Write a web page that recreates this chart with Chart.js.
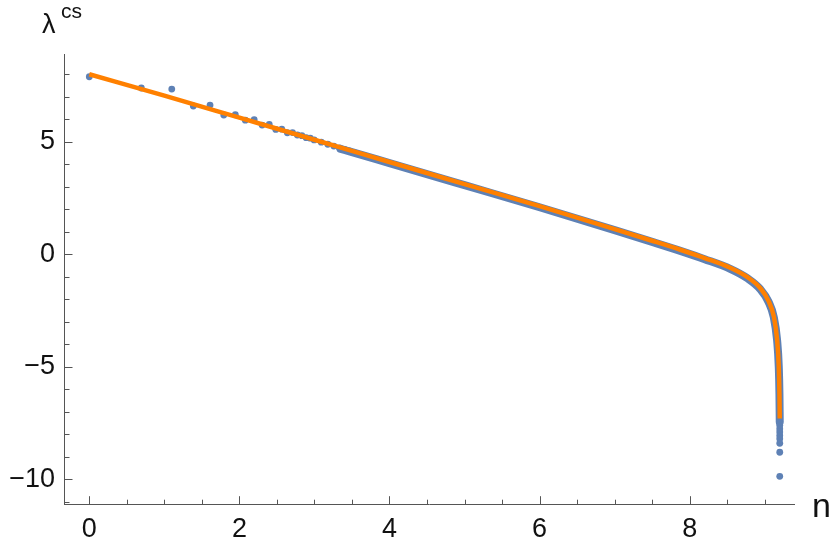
<!DOCTYPE html>
<html>
<head>
<meta charset="utf-8">
<script src="https://cdn.jsdelivr.net/npm/chart.js@4.4.1/dist/chart.umd.min.js"></script>
<style>
  html, body { margin: 0; padding: 0; background: #fff; }
  #wrap { width: 830px; height: 554px; position: relative; }
</style>
</head>
<body>
<div id="wrap"><canvas id="myChart"></canvas></div>
<script>
//! Les donnees.

// points separes (debut de la serie)
const pointsX = [0, 0.693, 1.099, 1.386, 1.609, 1.792, 1.946, 2.079, 2.197, 2.303,
  2.398, 2.485, 2.565, 2.639, 2.708, 2.773, 2.833, 2.890, 2.944, 2.996,
  3.091, 3.178, 3.258, 3.332, 3.401, 3.466, 3.526];
const pointsY = [7.89, 7.39, 7.34, 6.59, 6.63, 6.19, 6.20, 5.96, 5.98, 5.74,
  5.77, 5.55, 5.56, 5.40, 5.41, 5.30, 5.27, 5.18, 5.16, 5.08,
  4.98, 4.89, 4.81, 4.73, 4.66, 4.59, 4.53];

// points separes (queue en bas a droite)
const queueX = [9.2, 9.2, 9.2, 9.2, 9.2, 9.2, 9.2, 9.2, 9.2];
const queueY = [-7.45, -7.6, -7.75, -7.9, -8.05, -8.2, -8.4, -8.8, -9.87];

// bande bleue (points tres serres)
const bandeX = [3.35, 3.5, 4, 5, 6, 7, 7.5, 7.875, 8.2, 8.54, 8.77, 8.94, 9.05, 9.12, 9.165, 9.187, 9.196, 9.2];
const bandeY = [4.68, 4.54, 4.05, 3.07, 2.09, 1.07, 0.55, 0.15, -0.22, -0.65, -1.07, -1.55, -2.11, -2.79, -3.83, -5.0, -6.2, -7.45];

// courbe orange (ajustement)
const courbeX = [0, 1, 2, 3, 4, 5, 6, 7, 7.5, 7.875, 8.2, 8.54, 8.77, 8.94, 9.05, 9.12, 9.165, 9.187, 9.196, 9.2];
const courbeY = [8.0, 7.05, 6.07, 5.09, 4.1, 3.12, 2.14, 1.12, 0.6, 0.2, -0.17, -0.6, -1.02, -1.5, -2.07, -2.75, -3.8, -5.0, -6.2, -7.3];

// graduations
const xTicksMajeurs = [0, 2, 4, 6, 8];
const xTicksMineurs = [0.5, 1, 1.5, 2.5, 3, 3.5, 4.5, 5, 5.5, 6.5, 7, 7.5, 8.5, 9];
const yTicksMajeurs = [-10, -5, 0, 5];
const yTicksMineurs = [-11, -9, -8, -7, -6, -4, -3, -2, -1, 1, 2, 3, 4, 6, 7, 8];

//! --------------------------------------------------------------

const bleu = '#5E81B5';
const orange = '#FF8000';
const gris = '#555555';

let toXY = (xs, ys) => xs.map((x, i) => ({ x: x, y: ys[i] }));

//! Graduations vers l'interieur + titres des axes.

const axesMathematica = {
  id: 'axesMathematica',
  afterDraw(chart) {
    const ctx = chart.ctx;
    const sx = chart.scales.x;
    const sy = chart.scales.y;
    const area = chart.chartArea;
    ctx.save();
    ctx.strokeStyle = gris;
    ctx.lineWidth = 1;
    let trait = (x1, y1, x2, y2) => {
      ctx.beginPath();
      ctx.moveTo(x1, y1);
      ctx.lineTo(x2, y2);
      ctx.stroke();
    };
    xTicksMajeurs.forEach((v) => {
      const px = Math.round(sx.getPixelForValue(v)) + 0.5;
      trait(px, area.bottom, px, area.bottom - 8.5);
    });
    xTicksMineurs.forEach((v) => {
      const px = Math.round(sx.getPixelForValue(v)) + 0.5;
      trait(px, area.bottom, px, area.bottom - 5);
    });
    yTicksMajeurs.forEach((v) => {
      const py = Math.round(sy.getPixelForValue(v)) + 0.5;
      trait(area.left, py, area.left + 8.5, py);
    });
    yTicksMineurs.forEach((v) => {
      const py = Math.round(sy.getPixelForValue(v)) + 0.5;
      trait(area.left, py, area.left + 5.5, py);
    });

    ctx.fillStyle = '#111';
    ctx.textBaseline = 'alphabetic';
    ctx.textAlign = 'left';
    ctx.font = '34px "Liberation Sans", Arial, sans-serif';
    ctx.fillText('n', 812, 517);
    ctx.font = '27px "Liberation Sans", Arial, sans-serif';
    ctx.fillText('λ', 42, 33);
    ctx.font = '21px "Liberation Sans", Arial, sans-serif';
    ctx.fillText('cs', 61, 18);
    ctx.restore();
  },
};

//! --------------------------------------------------------------

//! Le graphique.

const data = {
  datasets: [
    {
      label: 'ajustement',
      type: 'line',
      data: toXY(courbeX, courbeY),
      borderColor: orange,
      borderWidth: 4.5,
      pointRadius: 0,
      cubicInterpolationMode: 'monotone',
      borderCapStyle: 'butt',
      order: 0,
    },
    {
      label: 'bande',
      type: 'line',
      data: toXY(bandeX, bandeY),
      borderColor: bleu,
      borderWidth: 8,
      pointRadius: 0,
      cubicInterpolationMode: 'monotone',
      borderCapStyle: 'round',
      order: 1,
    },
    {
      label: 'points',
      type: 'scatter',
      data: toXY(pointsX, pointsY).concat(toXY(queueX, queueY)),
      backgroundColor: bleu,
      borderWidth: 0,
      pointRadius: 3.4,
      order: 2,
    },
  ],
};

const tickFont = { family: '"Liberation Sans", Arial, sans-serif', size: 27 };

let options = {
  responsive: true,
  maintainAspectRatio: false,
  animation: false,
  devicePixelRatio: 1,
  layout: { padding: { top: 54, right: 36, left: 0, bottom: 0 } },
  plugins: { legend: { display: false }, tooltip: { enabled: false } },
  scales: {
    x: {
      type: 'linear',
      min: -0.337,
      max: 9.39,
      grid: { display: false, drawTicks: false },
      border: { display: true, color: gris, width: 1 },
      afterBuildTicks: (scale) => {
        scale.ticks = xTicksMajeurs.map((v) => ({ value: v }));
      },
      afterFit: (scale) => {
        scale.height = 49.3;
      },
      ticks: {
        autoSkip: false,
        maxRotation: 0,
        padding: 9,
        color: '#111',
        font: tickFont,
        callback: (v) => String(v),
      },
    },
    y: {
      type: 'linear',
      min: -11.13,
      max: 8.9,
      grid: { display: false, drawTicks: false },
      border: { display: true, color: gris, width: 1 },
      afterBuildTicks: (scale) => {
        scale.ticks = yTicksMajeurs.map((v) => ({ value: v }));
      },
      afterFit: (scale) => {
        scale.width = 64;
      },
      ticks: {
        autoSkip: false,
        padding: 9,
        color: '#111',
        font: tickFont,
        callback: (v) => (v < 0 ? '\u2212' + Math.abs(v) : String(v)),
      },
    },
  },
};

const config = {
  type: 'scatter',
  data,
  options,
  plugins: [axesMathematica],
};

const myChart = new Chart(document.getElementById('myChart'), config);

//! --------------------------------------------------------------
</script>
</body>
</html>
